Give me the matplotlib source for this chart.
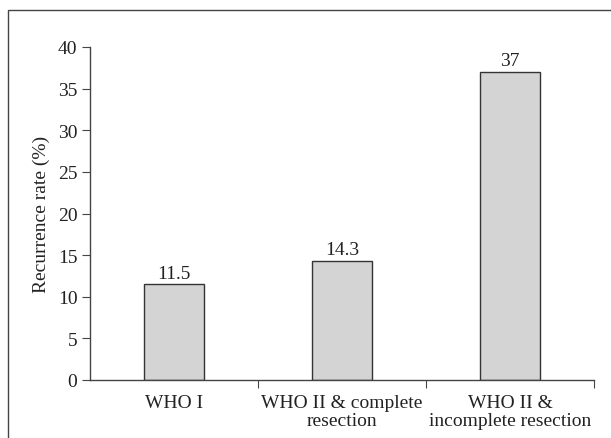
import matplotlib
matplotlib.use("Agg")
import matplotlib.pyplot as plt
from matplotlib.patches import Rectangle

categories = ["WHO I", "WHO II & complete\nresection", "WHO II &\nincomplete resection"]
rates = [11.5, 14.3, 37]
value_labels = ["11.5", "14.3", "37"]
y_ticks = [0, 5, 10, 15, 20, 25, 30, 35, 40]

plt.rcParams['font.family'] = ['Liberation Serif', 'DejaVu Serif']
fs = 14

fig = plt.figure(figsize=(6.11, 4.39), dpi=100)
ax = fig.add_axes([90/611, 1 - 381/439, (594 - 90)/611, (381 - 48)/439])

# outer frame (clipped at right and bottom like the original)
fig.patches.append(Rectangle((8/611, -0.05), 1.2, 1 - 11/439 + 0.05, transform=fig.transFigure,
                             fill=False, edgecolor='#444444', linewidth=1.0))

x = list(range(len(rates)))
ax.bar(x, rates, width=0.36, color='#d4d4d4', edgecolor='#333333', linewidth=1.0)
for xi, r, lab in zip(x, rates, value_labels):
    ax.text(xi, r + 0.3, lab, ha='center', va='bottom', fontsize=fs, color='#222222')

ax.set_xlim(-0.5, 2.5)
ax.set_ylim(0, 40)
ax.set_yticks(y_ticks)
ax.set_ylabel("Recurrence rate (%)", fontsize=fs, color='#222222', labelpad=6)

ax.set_xticks([0.5, 1.5, 2.5])
ax.set_xticklabels([])
ax.set_xticks(x, minor=True)
ax.set_xticklabels(categories, minor=True, fontsize=fs, color='#222222', linespacing=1.05)
ax.tick_params(axis='x', which='minor', length=0, pad=10)
ax.tick_params(axis='x', which='major', length=6, color='#444444', direction='out')
ax.tick_params(axis='y', length=6, color='#444444', direction='out', labelcolor='#222222',
               labelsize=fs, pad=3)

for s in ['top', 'right']:
    ax.spines[s].set_visible(False)
for s in ['left', 'bottom']:
    ax.spines[s].set_color('#444444')
    ax.spines[s].set_linewidth(1.0)

fig.savefig("out.png", dpi=100)
